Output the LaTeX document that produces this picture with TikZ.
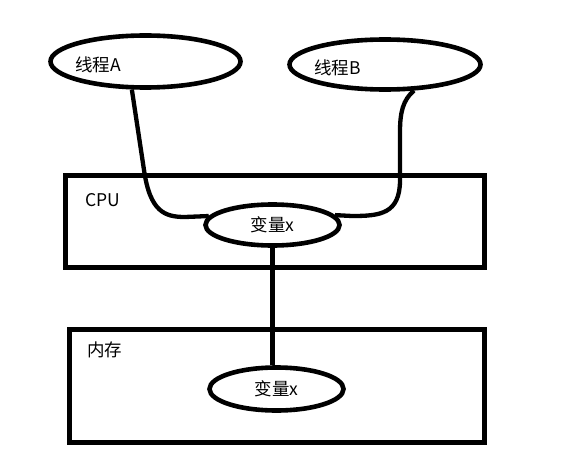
\documentclass[tikz,border=0pt]{standalone}
\usepackage{fontspec}
\setmainfont{Noto Sans CJK SC}
\usetikzlibrary{calc,shapes.geometric}

\begin{document}
\begin{tikzpicture}[x=1pt,y=-1pt,
  oval/.style={draw, ellipse, line width=4.6pt, inner sep=0pt, font=\fontsize{17.5}{19}\selectfont},
  box/.style={draw, rectangle, line width=4.6pt, inner sep=0pt},
  wire/.style={line width=4.3pt},
  lbl/.style={anchor=west, inner sep=0pt, font=\fontsize{17.5}{19}\selectfont}]
\useasboundingbox (0,0) rectangle (585,465);
\node [box, minimum width=419pt, minimum height=92pt] (cpu) at (275,221.5) {};
\node [lbl] (cpul) at (85,200) {CPU};
\node [box, minimum width=415pt, minimum height=113pt] (mem) at (277,386) {};
\node [lbl] (meml) at (87,350) {内存};
\node [oval, minimum width=190pt, minimum height=52pt] (thA) at (145.5,61.5) {};
\node [lbl] (thAl) at (75,65) {线程A};
\node [oval, minimum width=191pt, minimum height=50pt] (thB) at (385,64.5) {};
\node [lbl] (thBl) at (314,68) {线程B};
\node [oval, minimum width=134pt, minimum height=41pt] (varc) at (272.5,225) {变量x};
\node [oval, minimum width=134pt, minimum height=43pt] (varm) at (276.5,389) {变量x};
\draw [wire] (thA.244) -- (144,170) .. controls (150,212) and (165,217) .. (185,217) -- (varc.172);
\draw [wire] (thB.318) .. controls (403,100) and (400,112) .. (400,132) -- (400,180) .. controls (400,214) and (380,216) .. (352,216) -- (varc.9);
\draw [wire] (varc.south) -- (varc.south |- varm.north);
\end{tikzpicture}
\end{document}
